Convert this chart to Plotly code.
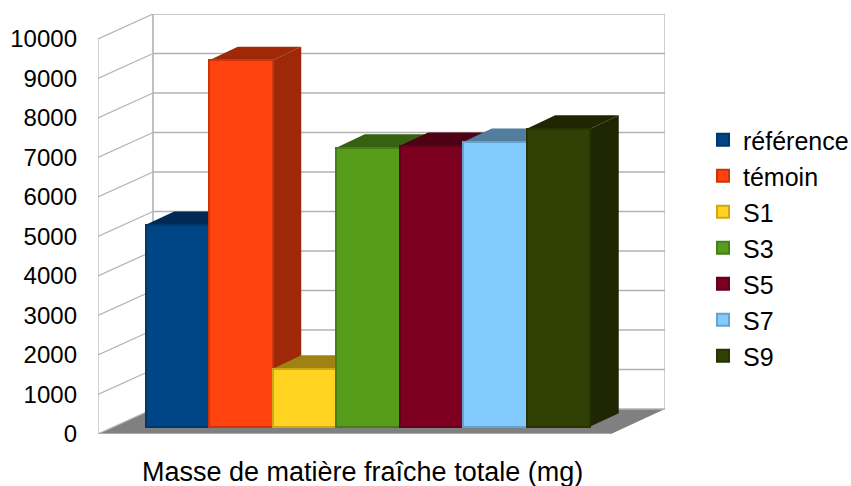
import plotly.graph_objects as go

series_names = ["référence", "témoin", "S1", "S3", "S5", "S7", "S9"]
series_values = [5105, 9275, 1465, 7060, 7105, 7205, 7540]
series_colors = ["#004586", "#ff420e", "#ffd320", "#579d1c", "#7e0021", "#83caff", "#314004"]
y_ticks = list(range(0, 10001, 1000))
x_title = "Masse de matière fraîche totale (mg)"

WALL = "#b3b3b3"
FONT = "Liberation Sans"

# Plot box in pixels and scale factors
L, R, T, B = 98, 665, 14, 434
PX_X = 63.5
PX_Y = 0.0395
X0_PX = 177.5


def x_of(px):
    return (px - X0_PX) / PX_X


def y_of(px):
    return (B - px) / PX_Y


wall_dx = 55 / PX_X
wall_dy = 25 / PX_Y
bar_base = 7.5 / PX_Y
bar_dx = 28.5 / PX_X
bar_dy = 13.3 / PX_Y
x_left = x_of(L)
x_front_right = x_of(611)
x_back_left = x_left + wall_dx
x_back_right = x_of(R)


def shade(color, k):
    r, g, b = (int(color[i:i + 2], 16) for i in (1, 3, 5))
    return f"rgb({int(r * k)},{int(g * k)},{int(b * k)})"


def poly(points, fill=None, line=None, width=0):
    path = "M" + " L".join(f"{x},{y}" for x, y in points) + " Z"
    return dict(type="path", xref="x", yref="y", layer="below", path=path,
                fillcolor=fill or "rgba(0,0,0,0)",
                line=dict(color=line or "rgba(0,0,0,0)", width=width))


def seg(x0, y0, x1, y1, width):
    return dict(type="line", xref="x", yref="y", layer="below", x0=x0, y0=y0, x1=x1, y1=y1,
                line=dict(color=WALL, width=width))


shapes = []
# floor
shapes.append(poly([(x_left, 0), (x_front_right, 0), (x_back_right, wall_dy), (x_back_left, wall_dy)], "#808080"))
# grid lines on both walls
for t in y_ticks:
    shapes.append(seg(x_left, t, x_back_left, t + wall_dy, 1.2))
    shapes.append(seg(x_back_left, t + wall_dy, x_back_right, t + wall_dy, 1.6))
# wall edges
shapes.append(seg(x_left, 0, x_left, y_ticks[-1], 1.2))
shapes.append(seg(x_back_left, wall_dy, x_back_left, y_ticks[-1] + wall_dy, 1.6))
shapes.append(seg(x_back_right, wall_dy, x_back_right, y_ticks[-1] + wall_dy, 1.2))
shapes.append(seg(x_left, 0, x_front_right, 0, 1.6))
# side and top faces of each bar, painted left to right
for i, (v, c) in enumerate(zip(series_values, series_colors)):
    xl, xr = i - 0.5, i + 0.5
    top = v + bar_base
    dark = shade(c, 0.62)
    shapes.append(poly([(xr, bar_base), (xr + bar_dx, bar_base + bar_dy),
                        (xr + bar_dx, top + bar_dy), (xr, top)], dark))
    shapes.append(poly([(xl, top), (xl + bar_dx, top + bar_dy),
                        (xr + bar_dx, top + bar_dy), (xr, top)], dark))

fig = go.Figure()
for i, (name, v, c) in enumerate(zip(series_names, series_values, series_colors)):
    fig.add_trace(go.Bar(
        x=[i], y=[v], base=bar_base, width=1, name=name, legendgroup=name,
        marker=dict(color=c, line=dict(color=shade(c, 0.8), width=2)),
        hoverinfo="name+y",
    ))

fig.update_layout(
    width=851, height=486, autosize=False,
    margin=dict(l=L, r=851 - R, t=T, b=486 - B, autoexpand=False),
    paper_bgcolor="white", plot_bgcolor="rgba(0,0,0,0)",
    barmode="overlay", bargap=0,
    shapes=shapes,
    font=dict(family=FONT, size=24, color="black"),
    xaxis=dict(range=[x_left, x_back_right], visible=False, fixedrange=True),
    yaxis=dict(range=[0, y_of(T)], tickmode="array", tickvals=y_ticks,
               ticktext=[str(t) for t in y_ticks], showgrid=False, zeroline=False, showline=False,
               ticks="", ticklabelstandoff=20, tickfont=dict(family=FONT, size=24), fixedrange=True),
    legend=dict(x=(703 - L) / (R - L), xanchor="left", y=(B - 117) / (B - T), yanchor="top",
                font=dict(family=FONT, size=25), tracegroupgap=0.5, traceorder="grouped",
                bgcolor="rgba(0,0,0,0)", borderwidth=0, itemclick=False, itemdoubleclick=False),
    annotations=[dict(text=x_title, xref="paper", yref="paper", showarrow=False,
                      x=(362 - L) / (R - L), xanchor="center", y=(B - 472) / (B - T), yanchor="middle",
                      font=dict(family=FONT, size=27, color="black"))],
)

fig.write_html("out.html", config={"displayModeBar": False},
               post_script="document.body.style.margin='0';document.documentElement.style.overflow='hidden';")
